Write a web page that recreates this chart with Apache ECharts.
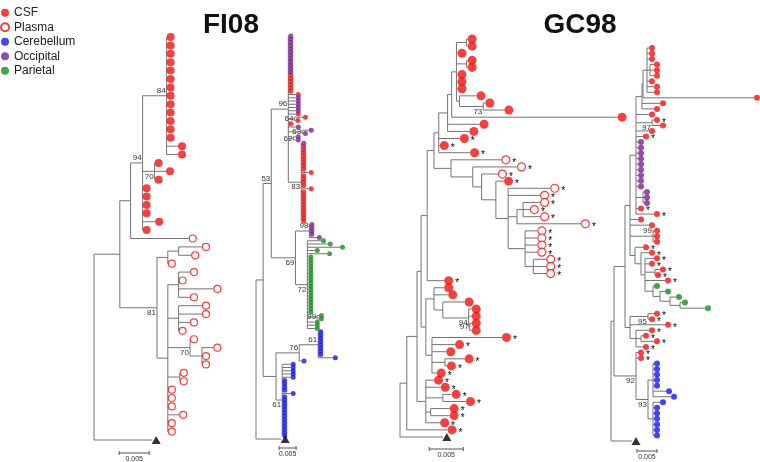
<!DOCTYPE html>
<html><head><meta charset="utf-8">
<script src="https://cdn.jsdelivr.net/npm/echarts@6/dist/echarts.min.js"></script>
<style>html,body{margin:0;padding:0;background:#fff}#c{width:760px;height:462px}</style>
</head><body><div id="c"></div><script>
// ---- legend / categories ----
const legendNames = ['CSF', 'Plasma', 'Cerebellum', 'Occipital', 'Parietal'];
const typeCodes = ['C', 'P', 'B', 'O', 'G'];
const typeColors = ['#f01010', '#f01010', '#1414ee', '#7a1f96', '#1c8a1c'];
const titleTexts = ['FI08', 'GC98'];
const scaleBarLabel = '0.005';
const scaleBarLength = [5, 5, 5, 5];          // in 0.001 substitutions/site
const scaleBarStart = [4.2, 6.8, 4.3, 6.5];   // in 0.001 units from root

// ---- trees (Newick; branch lengths in 0.001 subst./site; internal labels = bootstrap, suffix a/b/m = above/below/middle) ----
const treeFI08a = "(((((C:0,C:0,C:0,C:0,C:0,C:0,C:0,C:0,C:0,C:0,C:0,C:0,C:0,C:1.9,C:1.9)84a:4,(C:0,C:1.9,C:0)70b:2,C:0,C:0,C:0,C:0,C:2.1,C:0)94a:2,P:9.7):1.8,(((P:3.9,P:2.1):1.8,P:0):1.8,((P:1.9,P:0,P:5.8,P:1.9):1.8,(P:3.9,P:3.9,P:1.9,P:0):1.8,(P:0,(P:1.9,P:0,P:0):2)70b:3.7,(P:0,P:0):2,P:0,P:0,P:0,P:1.9,P:0,P:0):1.8)81b:6.2):4.3,T:9.7);";
const treeFI08b = "((((O:0,O:0,O:0,O:0,O:0,O:0,O:0,O:0,O:0,O:0,O:0,O:0,C:0,C:0,C:0,C:0,C:0,C:0,C:2.2,O:2.2,O:2.2,O:2.2,O:2.2,O:2.2,C:2.2,(C:2.5,C:0.3)64m:1.8,C:0,O:2.2,(O:1.9,O:0.2)63m:4.1,(O:0.7,O:0.7)62m:1.5,(O:0,C:0,C:0,C:0,C:0,C:0,C:0,C:0,C:0,C:2.2,C:0,C:0,C:0,C:0,C:2.2,C:0,C:0,C:0,C:0,C:0,C:0,C:0,C:0,C:0,C:0)83b:3.8)96a:5,((O:0,O:0,O:0,O:0,O:2.2)98a:4.1,(G:4,G:6,G:9.6,G:2.2,G:5.8,G:0.3,G:0.3,G:0.3,G:0.3,G:0.3,G:0.3,G:0.3,G:0.3,G:0.3,G:0.3,G:0.3,G:0.3,G:0.3,G:0.3,G:0.3,G:0.3,G:0.3,G:0.3,(G:0.5,G:0.5)99m:2.9,G:2.2,G:2.2,G:2.2)72b:3.5)69b:7.1)53a:2.4,(((B:0,B:0,B:0,B:0,B:0,B:0,B:0,B:0,B:4.3)61a:5.6,B:0.7)76a:6.8,(B:2.5,B:2.5,B:2.5,B:2.5,B:2.5,B:0,B:0,B:0,B:0,B:2.5,B:0,B:0,B:0,B:0,B:0,B:0,B:0,B:0,B:0,B:0,B:0,B:0,B:0)61b:1.8):3.8):2.1,T:7.4);";
const treeGC98a = "(((((((((((C:0.15,C:0.15):1.5,C:0.15,(C:0.15,C:0.15):1.5,C:0.15,C:0.15,C:0.15,(C:2.5,(C:0.3,C:3.1)73b:3.5):0.45):0.7,C:24.4):0.6,C:4.7,C:3.2):1.3,C*:3.1,C*:0.15,C*:4.6):0.7,(P*:7.4,(P*:6.5,(P*:2.4,(C*:1.2,(P*:6.2,P*:4.7,((P*:2.5,P*:1.0,P*:2.5):0.9,P*:9.4):1.3,(P*:1.8,P*:1.8,P*:1.8,P*:1.8,(P*:1.9,P*:1.9,P*:1.9):1.2):2.5):1.8):2.1):1.3):3.2):2.5):1.0,C*:2.5):0.9,((C:1.5,C:2.1,(C:3.2,(C:0.45,C:0.45,(C:0.3,C:0.3)97m:0.15)94b:3.8):1.3):1.2,(C*:10.3,C*:3.4,C:2.1,(C*:2.9,C*:0.3):1.9,C*:0.7):0.9):0.7):0.6,(C*:1.2,C*:2.2,(C*:1.3,C*:3.4):2.5,(C*:2.8,C*:2.8):0.7,C*:2.1):1.3):1.5,C*:6.0):1.0,T:6.3);";
const treeGC98b = "((((((((C:0.5,C:0.5,C:0.5,(C:1,C:1,C:1):0.75,C:0.5,C:1.75,C:1.75):1,C:27.75):0.25,C:4.5,C:3):1.5,C:3.25,(C*:0.5,C:2)97b:4,C:3.25,C*:1.75,O:0.5,O:0.5,O:0.5,O:0.5,O:0.5,O:0.5,O:0.5,O:0.5,O:0.5,(O:0.25,O:0.25,O:0.25):1.75,C*:0.5,C*:4.5):1.5,C:2,C:4.75,(C:0.25,C:0.25,C:0.25)99a:5.75,(C*:2,(C*:2,(C*:2.25,C*:1,(C*:1.25,C*:0):2.5,C*:5,(G:0.25,(G:1.25,(G:1.5,(G:0.5,G:6.25):2.5):2.5):1.75):2):1):1.5):1.25):1.25,((C*:1.5,C*:0.25)95b:4.5,C*:8.75,(C*:3.25,(C*:0.5,C*:3.25):1.25,C*:1.75):1.5):1.25):2.75,(C*:0.5,C*:0.5,((B:0.25,B:0.25,B:0.25,B:0.25,B:0.25,B:3.25,B:4.5):1.25,(B:1.75,B:0.25,B:0.25,B:0.25,B:0.25,B:0.25,B:0.25):1.25)93b:3)92b:5.5):0.75,T:5.25);";
const trees = [treeFI08a, treeFI08b, treeGC98a, treeGC98b];

// ---- layout (pixels) ----
const gridLeft = [94, 256, 400, 611];
const pxPerUnit = [6, 3.4, 6.8, 4];
const gridTop = [37, 36, 39, 48];
const gridBottom = [440, 439, 437, 441];
const gridWidth = [150, 120, 245, 148];
const dotSize = [8, 5, 9, 6];
const scaleBarDy = [13, 9, 12, 10];
const titleX = [231, 580];
const titleY = [25, 25];

function parseNewick(str) {
  const s = str.replace(/\s+/g, '');
  let i = 0;
  function node() {
    const n = { children: [], name: '', label: '', len: 0 };
    if (s[i] === '(') {
      i++;
      n.children.push(node());
      while (s[i] === ',') { i++; n.children.push(node()); }
      i++;
      let lab = ''; while (i < s.length && !':,();'.includes(s[i])) lab += s[i++];
      n.label = lab;
    } else {
      let nm = ''; while (i < s.length && !':,();'.includes(s[i])) nm += s[i++];
      n.name = nm;
    }
    if (s[i] === ':') {
      i++; let num = ''; while (i < s.length && !',();'.includes(s[i])) num += s[i++];
      n.len = parseFloat(num);
    }
    return n;
  }
  return node();
}

function layoutTree(root) {
  const leaves = [], segs = [], labels = [];
  let idx = 0;
  (function walk(n, x) {
    n.x = x;
    if (!n.children.length) { n.y = idx++; leaves.push(n); return; }
    n.children.forEach(c => walk(c, x + c.len));
    n.y = (n.children[0].y + n.children[n.children.length - 1].y) / 2;
  })(root, 0);
  (function seg(n, parent) {
    if (parent) segs.push([parent.x, n.y, n.x, n.y]);
    if (n.children.length) {
      segs.push([n.x, n.children[0].y, n.x, n.children[n.children.length - 1].y]);
      if (n.label) labels.push({ x: n.x, y: n.y, text: n.label.slice(0, -1), pos: n.label.slice(-1) });
      n.children.forEach(c => seg(c, n));
    }
  })(root, null);
  return { leaves, segs, labels, n: idx };
}

const FONT = '"Liberation Sans", Arial, sans-serif';
const grids = [], xAxes = [], yAxes = [], series = [];

trees.forEach((nw, t) => {
  const L = layoutTree(parseNewick(nw));
  grids.push({ left: gridLeft[t], top: gridTop[t], width: gridWidth[t], height: gridBottom[t] - gridTop[t] });
  xAxes.push({ gridIndex: t, type: 'value', min: 0, max: gridWidth[t] / pxPerUnit[t], show: false });
  yAxes.push({ gridIndex: t, type: 'value', min: 0, max: L.n - 1, inverse: true, show: false });
  const r = dotSize[t] / 2;

  series.push({
    type: 'custom', xAxisIndex: t, yAxisIndex: t, silent: true, z: 1, clip: false,
    data: L.segs,
    encode: { x: [0, 2], y: [1, 3] },
    renderItem: (p, api) => {
      const a = api.coord([api.value(0), api.value(1)]);
      const b = api.coord([api.value(2), api.value(3)]);
      return { type: 'line', shape: { x1: a[0], y1: a[1], x2: b[0], y2: b[1] },
        style: { stroke: '#747474', lineWidth: 1 } };
    }
  });

  const labs = L.labels;
  series.push({
    type: 'custom', xAxisIndex: t, yAxisIndex: t, silent: true, z: 3, clip: false,
    data: labs.map(l => [l.x, l.y]),
    renderItem: (p, api) => {
      const l = labs[p.dataIndex];
      const c = api.coord([l.x, l.y]);
      const va = l.pos === 'a' ? 'bottom' : (l.pos === 'b' ? 'top' : 'middle');
      const dy = l.pos === 'a' ? -1 : (l.pos === 'b' ? 1 : 0);
      return { type: 'text', x: c[0] - 1, y: c[1] + dy,
        style: { text: l.text, fill: '#333', font: '8px ' + FONT, align: 'right', verticalAlign: va } };
    }
  });

  typeCodes.forEach((code, k) => {
    const pts = L.leaves.filter(n => n.name.replace('*', '') === code).map(n => [n.x, n.y]);
    const hollow = code === 'P';
    series.push({
      type: 'scatter', name: legendNames[k], xAxisIndex: t, yAxisIndex: t, z: 4, clip: false,
      symbol: 'circle', symbolSize: hollow ? dotSize[t] - 1 : dotSize[t], symbolOffset: [r, 0],
      silent: true,
      itemStyle: hollow ? { color: '#fff', borderColor: typeColors[k], borderWidth: 1.2 } : { color: typeColors[k] },
      data: pts
    });
  });

  series.push({
    type: 'scatter', xAxisIndex: t, yAxisIndex: t, z: 4, clip: false, silent: true,
    symbol: 'triangle', symbolSize: [9, 8], symbolOffset: [4, 0], itemStyle: { color: '#000' },
    data: L.leaves.filter(n => n.name === 'T').map(n => [n.x, n.y])
  });

  const stars = L.leaves.filter(n => n.name.includes('*')).map(n => [n.x, n.y]);
  series.push({
    type: 'custom', xAxisIndex: t, yAxisIndex: t, silent: true, z: 5, clip: false,
    data: stars,
    renderItem: (p, api) => {
      const c = api.coord([api.value(0), api.value(1)]);
      return { type: 'text', x: c[0] + 2 * r + 2, y: c[1] + 3,
        style: { text: '*', fill: '#000', font: '10px ' + FONT, align: 'left', verticalAlign: 'middle' } };
    }
  });

  const nLast = L.n - 1, dy = scaleBarDy[t];
  series.push({
    type: 'custom', xAxisIndex: t, yAxisIndex: t, silent: true, z: 2, clip: false,
    data: [[scaleBarStart[t], scaleBarStart[t] + scaleBarLength[t]]],
    renderItem: (p, api) => {
      const a = api.coord([api.value(0), nLast]);
      const b = api.coord([api.value(1), nLast]);
      const y = a[1] + dy;
      return { type: 'group', children: [
        { type: 'line', shape: { x1: a[0], y1: y, x2: b[0], y2: y }, style: { stroke: '#555', lineWidth: 1 } },
        { type: 'line', shape: { x1: a[0], y1: y - 2, x2: a[0], y2: y + 2 }, style: { stroke: '#555', lineWidth: 1 } },
        { type: 'line', shape: { x1: b[0], y1: y - 2, x2: b[0], y2: y + 2 }, style: { stroke: '#555', lineWidth: 1 } },
        { type: 'text', x: (a[0] + b[0]) / 2, y: y + 3,
          style: { text: scaleBarLabel, fill: '#333', font: '7px ' + FONT, align: 'center', verticalAlign: 'top' } }
      ] };
    }
  });
});

const chart = echarts.init(document.getElementById('c'), null, { renderer: 'canvas' });
chart.setOption({
  animation: false,
  backgroundColor: '#fff',
  grid: grids, xAxis: xAxes, yAxis: yAxes, series: series,
  legend: {
    data: legendNames, orient: 'vertical', left: 0, top: 6, padding: 0,
    itemWidth: 8, itemHeight: 8, itemGap: 1, icon: 'circle', selectedMode: false,
    textStyle: { fontFamily: FONT, fontSize: 12, color: '#222', lineHeight: 13.5 }
  },
  graphic: titleTexts.map((txt, i) => ({
    type: 'text', x: titleX[i], y: titleY[i],
    style: { text: txt, fill: '#111', font: 'bold 28px ' + FONT, align: 'center', verticalAlign: 'middle' }
  }))
});
</script></body></html>
